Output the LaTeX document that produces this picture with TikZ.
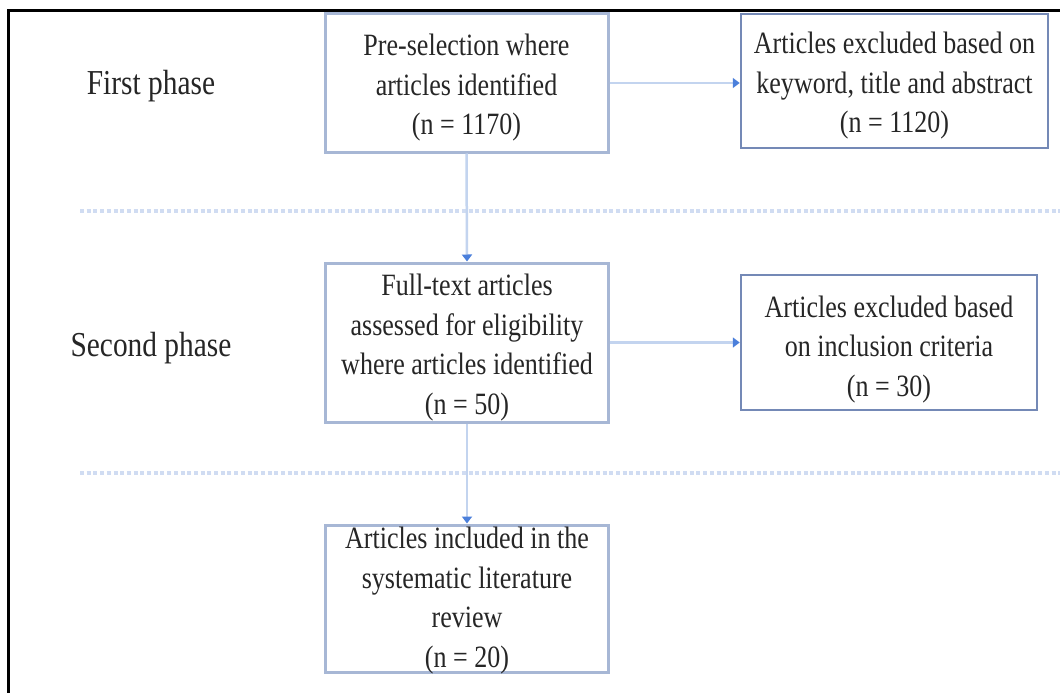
\documentclass[tikz,border=0pt]{standalone}
\usepackage{fontspec}
\setmainfont{Liberation Serif}[FakeStretch=0.84]
\usetikzlibrary{arrows.meta}
\definecolor{boxlight}{HTML}{A7B7D5}
\definecolor{boxdark}{HTML}{7489B6}
\definecolor{arrowline}{HTML}{C3D4EF}
\definecolor{arrowtip}{HTML}{4A7FDB}
\definecolor{dotline}{HTML}{D0DCF2}
\definecolor{txt}{HTML}{262626}
\begin{document}
\begin{tikzpicture}[x=1pt,y=-1pt,
  boxa/.style={draw=boxlight, line width=3pt, minimum width=283pt, inner sep=0pt, align=center, text=txt, font=\fontsize{31}{39.5}\selectfont},
  boxb/.style={draw=boxdark, line width=2.5pt, inner sep=0pt, align=center, text=txt, font=\fontsize{31}{39.5}\selectfont},
  flow/.style={draw=arrowline, line width=2.5pt, -{Triangle[length=7pt,width=10pt,color=arrowtip]}},
  sepline/.style={draw=dotline, line width=3.5pt, dash pattern=on 4pt off 2.7pt},
  phase/.style={text=txt, font=\fontsize{35}{40}\selectfont, anchor=base, inner sep=0pt}
]
\useasboundingbox (0,0) rectangle (1060,693);
\fill[white] (0,0) rectangle (1060,693);
\draw[black, line width=3pt] (8.5,693) -- (8.5,10.5) -- (1060,10.5);

\draw[sepline] (80,211) -- (1060,211);
\draw[sepline] (80,473) -- (1060,473);

\node[phase] (p1) at (151,95) {First phase};
\node[phase] (p2) at (151,356) {Second phase};

\node[boxa, minimum height=138pt, text height=110.2pt] (pre) at (466.5,83) {Pre-selection where\\articles identified\\(n = 1170)};
\node[boxb, minimum width=307pt, minimum height=134pt, text height=110.2pt] (exc1) at (894.5,81) {Articles excluded based on\\keyword, title and abstract\\(n = 1120)};
\node[boxa, minimum height=159pt, text height=149.7pt] (full) at (467,342.5) {Full-text articles\\assessed for eligibility\\where articles identified\\(n = 50)};
\node[boxb, minimum width=296pt, minimum height=135pt, text height=114.2pt] (exc2) at (889,342.5) {Articles excluded based\\on inclusion criteria\\(n = 30)};
\node[boxa, minimum height=147pt, text height=137pt, text depth=0pt] (inc) at (467,598.5) {Articles included in the\\systematic literature\\review\\(n = 20)};

\draw[flow] (pre.south) -- (full.north);
\draw[flow] (full.south) -- (inc.north);
\draw[flow] (pre.east) -- (pre.east -| exc1.west);
\draw[flow] (full.east) -- (full.east -| exc2.west);
\end{tikzpicture}
\end{document}
